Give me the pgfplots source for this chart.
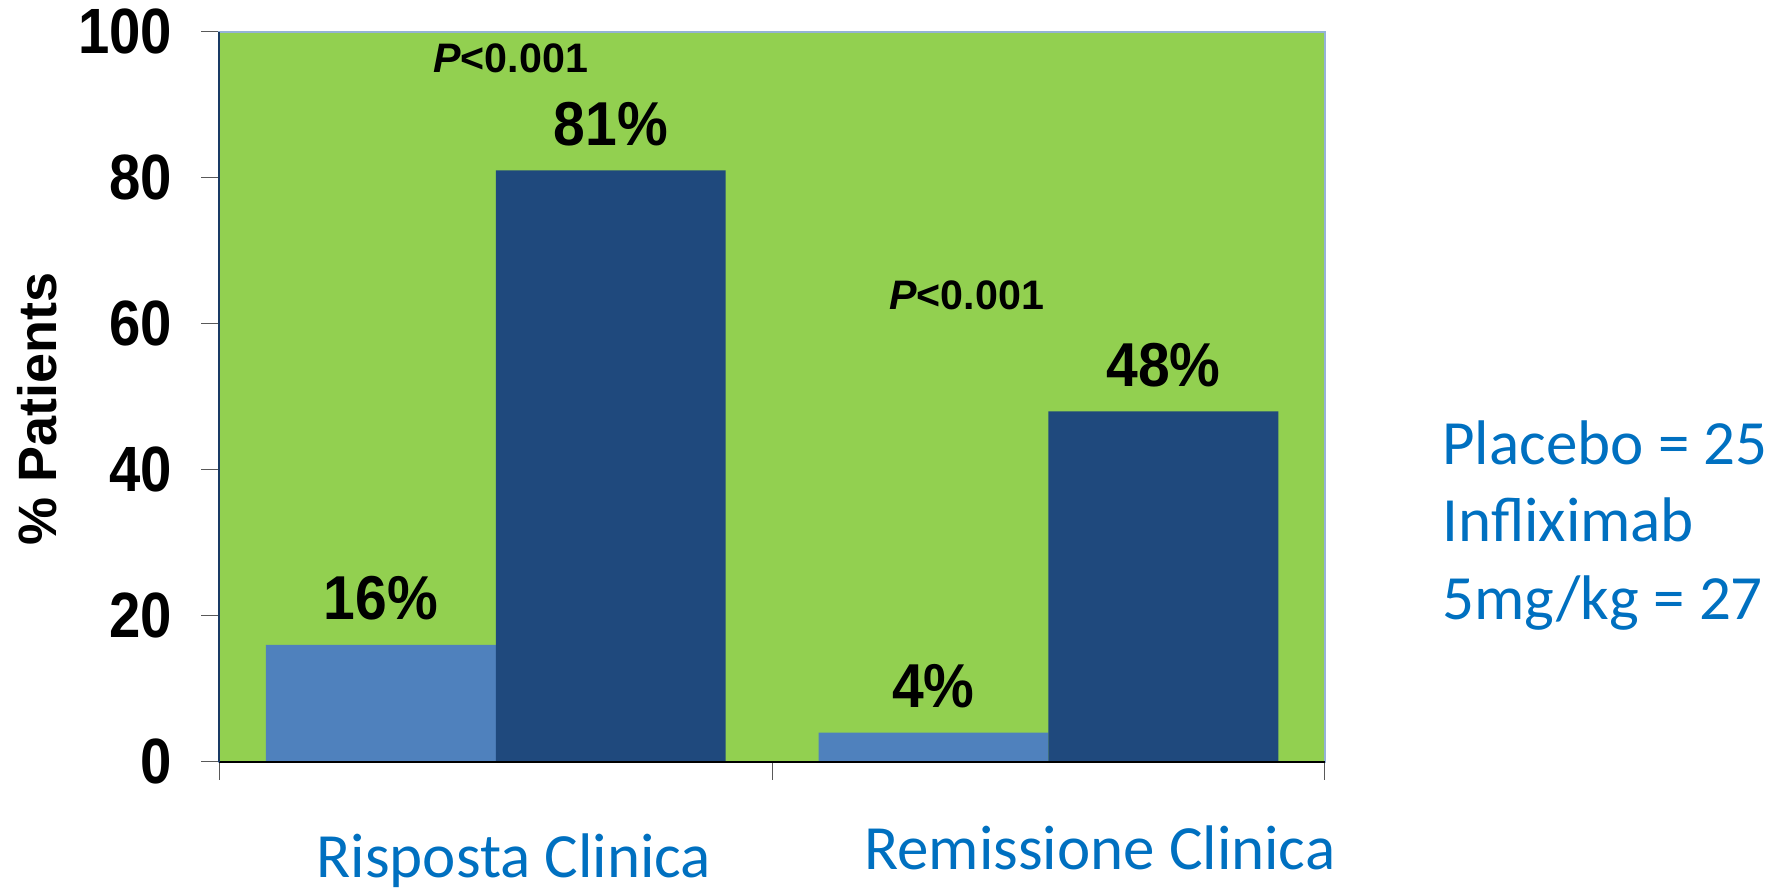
\documentclass[border=0pt]{standalone}
\usepackage{fontspec}
\setmainfont{Liberation Sans}
\newfontfamily\carlito{Carlito}
\usepackage{pgfplots}
\pgfplotsset{compat=1.18}
\definecolor{bggreen}{HTML}{92D050}
\definecolor{plac}{HTML}{4F81BD}
\definecolor{infl}{HTML}{1F497D}
\definecolor{frame}{HTML}{95B3D7}
\definecolor{txtblue}{HTML}{0070C0}
\begin{document}
\begin{tikzpicture}
\useasboundingbox (0,0) rectangle (891.5pt,446.3pt);
\begin{axis}[
  at={(109.7pt,65.4pt)}, anchor=south west,
  scale only axis, width=552.7pt, height=365pt,
  xmin=-0.5, xmax=1.5, ymin=0, ymax=100,
  axis background/.style={fill=bggreen},
  axis line style={draw=frame, line width=1pt},
  xtick={-0.5,0.5,1.5}, xticklabels={},
  ytick={0,20,40,60,80,100},
  tick align=outside, tick pos=left,
  major tick length=9pt,
  every tick/.style={draw=gray!70!black, line width=0.6pt},
  /pgf/number format/assume math mode=true,
  yticklabel style={font=\bfseries\fontsize{32}{32}\selectfont, xscale=0.88, anchor=east, xshift=-13pt},
  nodes near coords,
  every node near coord/.append style={font=\bfseries\fontsize{31}{31}\selectfont, xscale=0.92, anchor=south, inner sep=0pt, yshift=12pt, text=black},
  nodes near coords={\pgfmathprintnumber{\pgfplotspointmeta}\%},
  clip=false,
]
% Placebo (bar centres at category -0.208)
\addplot[ybar, bar width=0.416, bar shift=0, fill=plac, draw=none] coordinates {(-0.208,16) (0.792,4)};
% Infliximab 5 mg/kg (bar centres at category +0.208)
\addplot[ybar, bar width=0.416, bar shift=0, fill=infl, draw=none] coordinates {(0.208,81) (1.208,48)};
\draw[black, line width=1pt] (rel axis cs:0,0) -- (rel axis cs:1,0);
\draw[infl!80!black, line width=1pt] (rel axis cs:0,0) -- (rel axis cs:0,1);
\node[font=\bfseries\fontsize{20.6}{20.6}\selectfont] at (axis cs:0.027,96.3) {\textit{P}<0.001};
\node[font=\bfseries\fontsize{20.6}{20.6}\selectfont] at (axis cs:0.852,63.9) {\textit{P}<0.001};
\node[font=\carlito\fontsize{31.5}{31.5}\selectfont, text=txtblue] at ([yshift=-49.5pt]axis cs:0.033,0) {Risposta Clinica};
\node[font=\carlito\fontsize{31.5}{31.5}\selectfont, text=txtblue] at ([yshift=-43pt]axis cs:1.093,0) {Remissione Clinica};
\node[font=\carlito\fontsize{31.5}{38.7}\selectfont, text=txtblue, anchor=west, align=left, inner sep=0pt] at (axis cs:1.712,32.4) {Placebo = 25\\Infliximab\\5mg/kg = 27};
\node[rotate=90, font=\bfseries\fontsize{27}{27}\selectfont] at ([xshift=-91pt,yshift=-6.3pt]rel axis cs:0,0.5) {\% Patients};
\end{axis}
\end{tikzpicture}
\end{document}
